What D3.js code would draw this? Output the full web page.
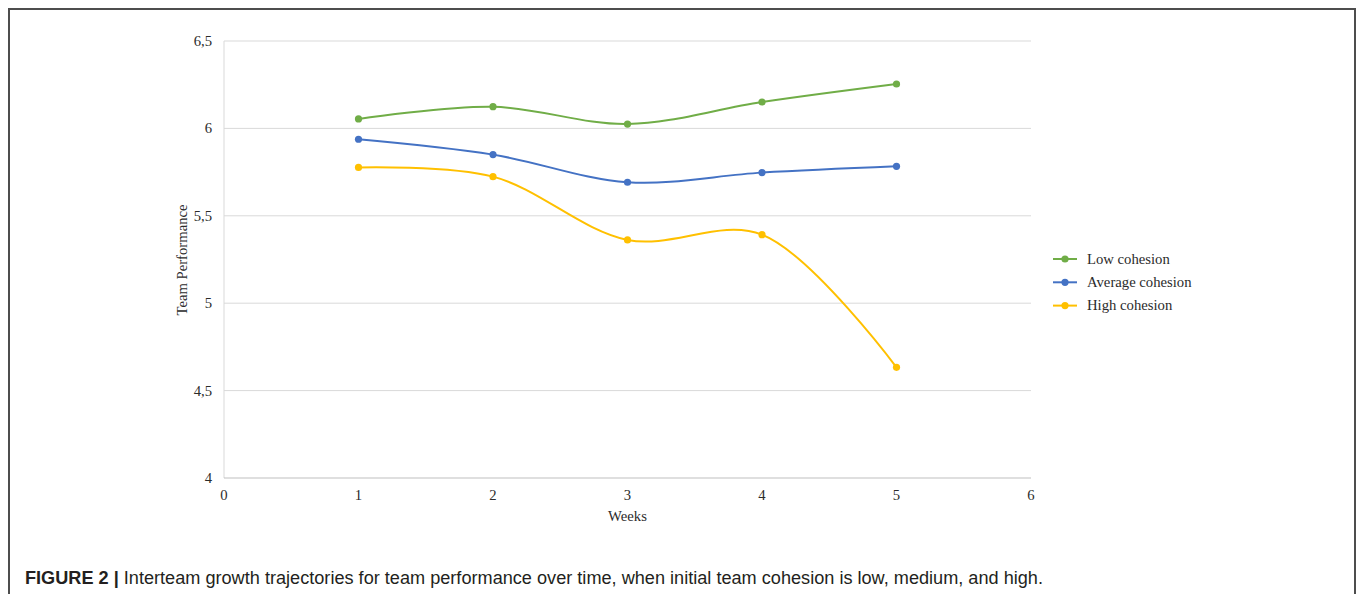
<!DOCTYPE html>
<html>
<head>
<meta charset="utf-8">
<script src="https://cdn.jsdelivr.net/npm/d3@7"></script>
<style>
  html, body { margin: 0; padding: 0; background: #fff; }
  svg { display: block; }
</style>
</head>
<body>
<svg id="chart" width="1358" height="594"></svg>
<script>
const weeks = [1, 2, 3, 4, 5];
const lowCohesion = [6.054, 6.124, 6.025, 6.151, 6.254];
const averageCohesion = [5.938, 5.850, 5.692, 5.747, 5.783];
const highCohesion = [5.777, 5.724, 5.362, 5.392, 4.633];
const seriesNames = ["Low cohesion", "Average cohesion", "High cohesion"];
const seriesColors = ["#70AD47", "#4472C4", "#FFC000"];
const xTicks = [0, 1, 2, 3, 4, 5, 6];
const yTicks = [4, 4.5, 5, 5.5, 6, 6.5];
const yTickLabels = ["4", "4,5", "5", "5,5", "6", "6,5"];
const xTitle = "Weeks";
const yTitle = "Team Performance";
const captionBold = "FIGURE 2 |";
const captionText = " Interteam growth trajectories for team performance over time, when initial team cohesion is low, medium, and high.";

const seriesValues = [lowCohesion, averageCohesion, highCohesion];

const svg = d3.select("#chart");
const serif = "'Liberation Serif', 'Times New Roman', serif";
const textColor = "#2b2b2b";

// frame
svg.append("path")
  .attr("d", "M9,594 L9,9 L1355,9 L1355,594")
  .attr("fill", "none").attr("stroke", "#4d4d4d").attr("stroke-width", 2);

const x = d3.scaleLinear().domain([0, 6]).range([224, 1031]);
const y = d3.scaleLinear().domain([4, 6.5]).range([478, 41]);

// gridlines
svg.append("g").selectAll("line").data(yTicks.slice(1)).join("line")
  .attr("x1", x(0)).attr("x2", x(6))
  .attr("y1", d => y(d)).attr("y2", d => y(d))
  .attr("stroke", "#d9d9d9").attr("stroke-width", 1);

// axes lines
svg.append("line").attr("x1", x(0)).attr("x2", x(0)).attr("y1", y(4)).attr("y2", y(6.5))
  .attr("stroke", "#d9d9d9").attr("stroke-width", 1);
svg.append("line").attr("x1", x(0)).attr("x2", x(6)).attr("y1", y(4)).attr("y2", y(4))
  .attr("stroke", "#bfbfbf").attr("stroke-width", 1);

// y tick labels
svg.append("g").selectAll("text").data(yTicks).join("text")
  .attr("x", 212).attr("y", d => y(d) + 5)
  .attr("text-anchor", "end")
  .attr("font-family", serif).attr("font-size", 14.7).attr("fill", textColor)
  .text((d, i) => yTickLabels[i]);

// x tick labels
svg.append("g").selectAll("text").data(xTicks).join("text")
  .attr("x", d => x(d)).attr("y", 500)
  .attr("text-anchor", "middle")
  .attr("font-family", serif).attr("font-size", 14.7).attr("fill", textColor)
  .text(d => d);

// axis titles
svg.append("text").attr("x", x(3)).attr("y", 521).attr("text-anchor", "middle")
  .attr("font-family", serif).attr("font-size", 14.7).attr("fill", textColor).text(xTitle);
svg.append("text").attr("transform", "translate(187,260) rotate(-90)").attr("text-anchor", "middle")
  .attr("font-family", serif).attr("font-size", 14.7).attr("fill", textColor).text(yTitle);

// lines
const line = d3.line().x(d => x(d[0])).y(d => y(d[1])).curve(d3.curveCatmullRom.alpha(0.5));
seriesValues.forEach((vals, i) => {
  const pts = weeks.map((w, j) => [w, vals[j]]);
  svg.append("path").datum(pts).attr("d", line)
    .attr("fill", "none").attr("stroke", seriesColors[i]).attr("stroke-width", 2);
  svg.append("g").selectAll("circle").data(pts).join("circle")
    .attr("cx", d => x(d[0])).attr("cy", d => y(d[1])).attr("r", 3.6)
    .attr("fill", seriesColors[i]);
});

// legend
const legend = svg.append("g");
seriesNames.forEach((name, i) => {
  const ly = 259 + i * 23.3;
  legend.append("line").attr("x1", 1053).attr("x2", 1077).attr("y1", ly).attr("y2", ly)
    .attr("stroke", seriesColors[i]).attr("stroke-width", 2);
  legend.append("circle").attr("cx", 1065).attr("cy", ly).attr("r", 3.6).attr("fill", seriesColors[i]);
  legend.append("text").attr("x", 1087).attr("y", ly + 4.8)
    .attr("font-family", serif).attr("font-size", 14.7).attr("fill", textColor).text(name);
});

// caption
const cap = svg.append("text").attr("x", 25).attr("y", 584)
  .attr("font-family", "'Liberation Sans', Arial, sans-serif").attr("font-size", 17.5).attr("fill", "#231f20")
  .attr("textLength", 1018).attr("lengthAdjust", "spacingAndGlyphs");
cap.append("tspan").attr("font-weight", "bold").text(captionBold);
cap.append("tspan").text(captionText);
</script>
</body>
</html>
